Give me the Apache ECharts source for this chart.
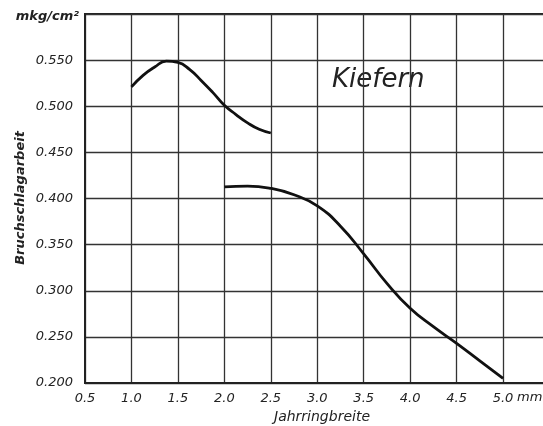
<!DOCTYPE html>
<html><head><meta charset="utf-8">
<script src="https://cdn.jsdelivr.net/npm/echarts@6/dist/echarts.min.js"></script>
<style>html,body{margin:0;padding:0;background:#fff}#c{width:543px;height:426px}</style>
</head><body><div id="c"></div>
<script>
// Data
const curve1X = [1.0, 1.125, 1.25, 1.375, 1.5, 1.625, 1.75, 1.875, 2.0, 2.125, 2.25, 2.375, 2.5];
const curve1Y = [0.521, 0.5335, 0.5425, 0.549, 0.5475, 0.540, 0.528, 0.515, 0.501, 0.491, 0.482, 0.475, 0.471];
const curve2X = [2.0, 2.25, 2.5, 2.75, 3.0, 3.25, 3.5, 3.75, 4.0, 4.25, 4.5, 4.75, 5.0];
const curve2Y = [0.4125, 0.4135, 0.411, 0.404, 0.392, 0.370, 0.340, 0.308, 0.281, 0.261, 0.243, 0.224, 0.205];
const yUnit = 'mkg/cm²';
const xUnit = 'mm';
const yTitle = 'Bruchschlagarbeit';
const xTitle = 'Jahrringbreite';
const label = 'Kiefern';

const pair = (xs, ys) => xs.map((x, i) => [x, ys[i]]);
const font = 'DejaVu Sans';
const chart = echarts.init(document.getElementById('c'));
chart.setOption({
  backgroundColor: '#fff',
  animation: false,
  grid: { left: 85, top: 14, width: 464.5, height: 369, outerBoundsMode: 'none', containLabel: false,
    show: true, borderColor: '#222', borderWidth: 2, backgroundColor: 'transparent' },
  xAxis: {
    type: 'value', min: 0.5, max: 5.5, interval: 0.5,
    axisLine: { show: true, lineStyle: { color: '#222', width: 2 } },
    axisTick: { show: false },
    splitLine: { show: true, lineStyle: { color: '#333', width: 1.3 } },
    axisLabel: { fontFamily: font, fontStyle: 'italic', fontSize: 13, color: '#222', margin: 9,
      formatter: v => v > 5.1 ? '' : v.toFixed(1) }
  },
  yAxis: {
    type: 'value', min: 0.2, max: 0.6, interval: 0.05,
    axisLine: { show: true, lineStyle: { color: '#222', width: 2 } },
    axisTick: { show: false },
    splitLine: { show: true, lineStyle: { color: '#333', width: 1.3 } },
    axisLabel: { fontFamily: font, fontStyle: 'italic', fontSize: 13, color: '#222', margin: 12,
      formatter: v => Math.abs(v - 0.6) < 1e-6 ? '{u|' + yUnit + '}' : v.toFixed(3),
      rich: { u: { fontFamily: font, fontStyle: 'italic', fontWeight: 'bold', fontSize: 13, color: '#222', padding: [6, -6, 0, 0] } } }
  },
  graphic: [
    { type: 'text', left: 517, top: 391, style: { text: xUnit, font: 'italic 13px "DejaVu Sans"', fill: '#222' } },
    { type: 'text', left: 332, top: 67, style: { text: label, font: 'italic 26px "DejaVu Sans"', fill: '#222' } },
    { type: 'text', x: 322, y: 417, style: { text: xTitle, font: 'italic 14px "DejaVu Sans"', fill: '#222', align: 'center', verticalAlign: 'middle' } },
    { type: 'text', x: 21, y: 198, rotation: Math.PI / 2, style: { text: yTitle, font: 'italic bold 13px "DejaVu Sans"', fill: '#222', align: 'center', verticalAlign: 'middle' } }
  ],
  series: [
    { type: 'line', data: pair(curve1X, curve1Y), smooth: true, symbol: 'none', lineStyle: { color: '#111', width: 2.8 } },
    { type: 'line', data: pair(curve2X, curve2Y), smooth: true, symbol: 'none', lineStyle: { color: '#111', width: 2.8 } }
  ]
});
</script></body></html>
